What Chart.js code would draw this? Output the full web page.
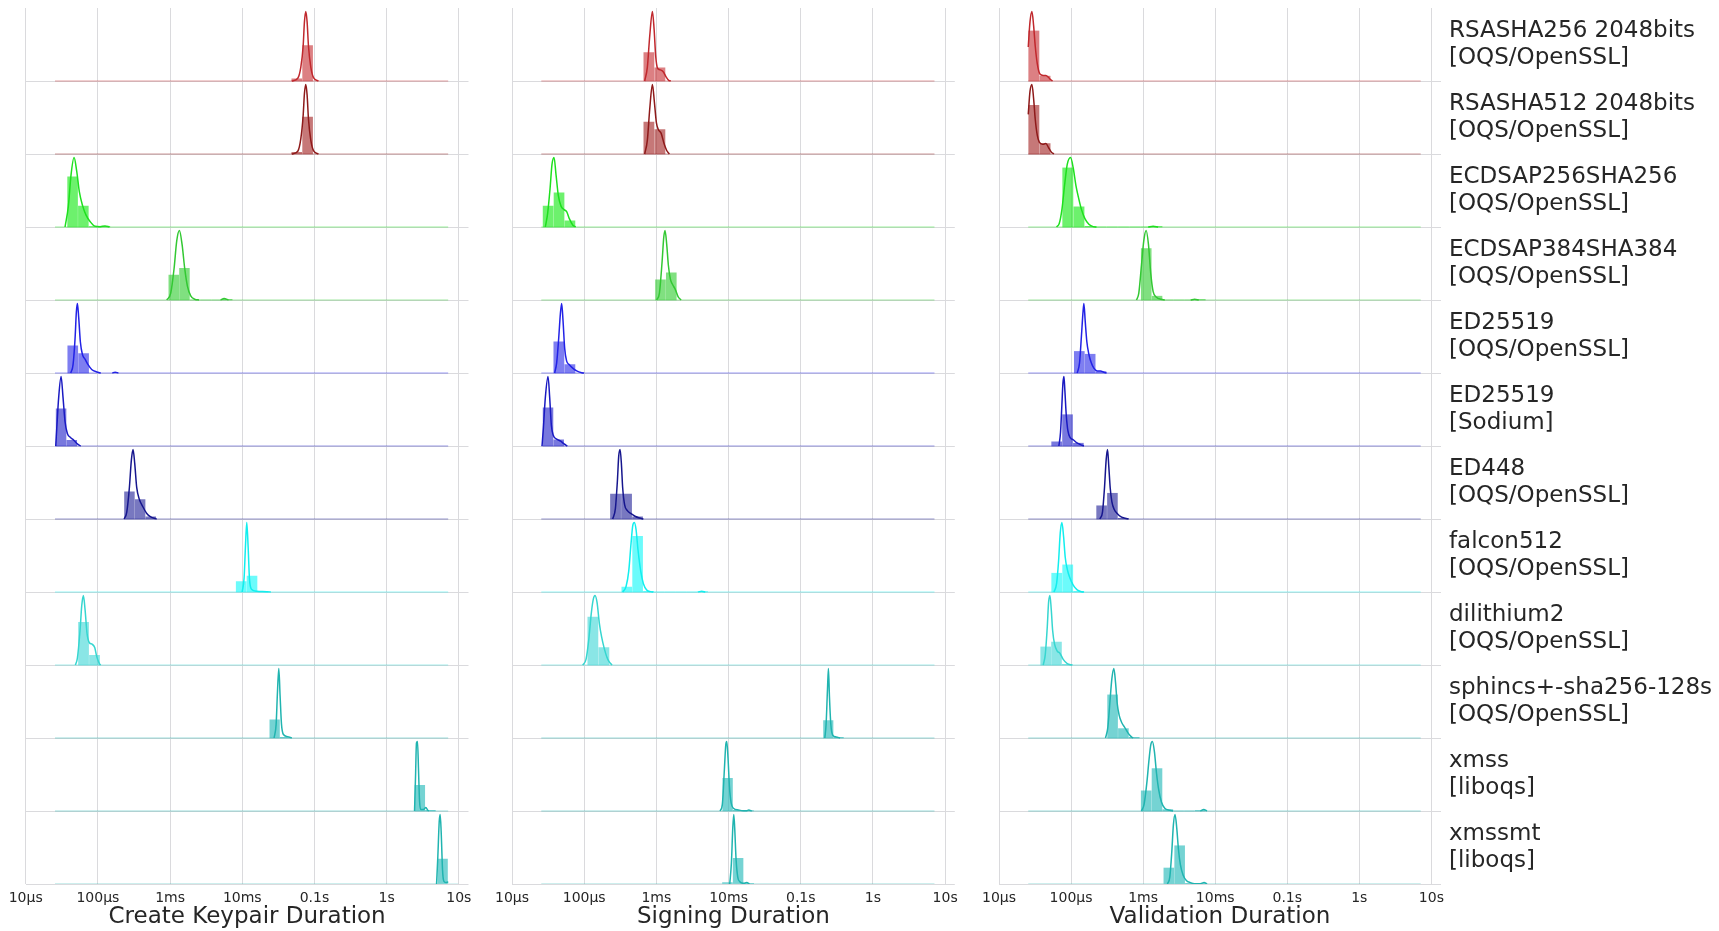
<!DOCTYPE html>
<html>
<head>
<meta charset="utf-8">
<script src="https://cdn.jsdelivr.net/npm/chart.js@4.4.1/dist/chart.umd.min.js"></script>
<style>
  html, body { margin: 0; padding: 0; background: #ffffff; }
  #fig { position: relative; width: 1719px; height: 931px; overflow: hidden; background: #ffffff; }
  #fig canvas { position: absolute; top: 0; }
</style>
</head>
<body>
<div id="fig">
  <canvas id="keypair" width="492" height="931" style="left:0px"></canvas>
  <canvas id="signing" width="500" height="931" style="left:470px"></canvas>
  <canvas id="validation" width="759" height="931" style="left:960px"></canvas>
</div>
<script>
// ---- Benchmark data (durations as log10 of seconds) ----
const columnTitles = ['Create Keypair Duration', 'Signing Duration', 'Validation Duration'];

const algorithmNames = [
  ['RSASHA256 2048bits', '[OQS/OpenSSL]'],
  ['RSASHA512 2048bits', '[OQS/OpenSSL]'],
  ['ECDSAP256SHA256', '[OQS/OpenSSL]'],
  ['ECDSAP384SHA384', '[OQS/OpenSSL]'],
  ['ED25519', '[OQS/OpenSSL]'],
  ['ED25519', '[Sodium]'],
  ['ED448', '[OQS/OpenSSL]'],
  ['falcon512', '[OQS/OpenSSL]'],
  ['dilithium2', '[OQS/OpenSSL]'],
  ['sphincs+-sha256-128s', '[OQS/OpenSSL]'],
  ['xmss', '[liboqs]'],
  ['xmssmt', '[liboqs]']
];

const tickValues = [1e-5, 1e-4, 1e-3, 1e-2, 1e-1, 1, 10];
const tickLabels = ['10µs', '100µs', '1ms', '10ms', '0.1s', '1s', '10s'];

// overall span of all measurements (log10 s)
const measuredRange = [-4.594, 0.852];

const lineColors = ['#c0282d', '#8e1a1a', '#1ee01e', '#33c833', '#2222e6', '#1a1ac2', '#16168e',
                    '#12eeee', '#36d6d0', '#20b4b0', '#20b4b0', '#20b4b0'];
const barColors = ['rgba(196,44,48,0.6)', 'rgba(160,30,30,0.6)', 'rgba(20,232,20,0.62)', 'rgba(50,205,50,0.62)',
                   'rgba(40,40,232,0.6)', 'rgba(30,30,200,0.6)', 'rgba(30,30,150,0.6)',
                   'rgba(10,248,248,0.6)', 'rgba(60,214,214,0.6)', 'rgba(32,184,184,0.62)',
                   'rgba(32,184,184,0.62)', 'rgba(32,184,184,0.62)'];

// histograms: [first bin edge, bin width, bin heights relative to the KDE peak]
const keypairHist = [
  [-1.320, 0.150, [0.03, 0.51]],
  [-1.320, 0.150, [0.024, 0.53]],
  [-4.425, 0.149, [0.72, 0.30, 0.005, 0.01]],
  [-3.023, 0.148, [0.36, 0.455, 0, 0, 0, 0.01]],
  [-4.423, 0.150, [0.39, 0.28]],
  [-4.584, 0.148, [0.535, 0.08]],
  [-3.637, 0.148, [0.39, 0.28, 0.03]],
  [-2.090, 0.150, [0.15, 0.23, 0.01]],
  [-4.275, 0.152, [0.615, 0.14]],
  [-1.624, 0.145, [0.26, 0.01]],
  [0.386, 0.147, [0.37, 0.01]],
  [0.704, 0.144, [0.36, 0]]
];
const signingHist = [
  [-3.180, 0.1525, [0.41, 0.19]],
  [-3.180, 0.1525, [0.46, 0.35]],
  [-4.575, 0.151, [0.30, 0.49, 0.09]],
  [-3.0185, 0.150, [0.29, 0.39]],
  [-4.427, 0.1525, [0.45, 0.12]],
  [-4.575, 0.148, [0.55, 0.09]],
  [-3.642, 0.1525, [0.36, 0.36, 0.03]],
  [-3.485, 0.150, [0.07, 0.80, 0.01, 0, 0, 0, 0, 0.006]],
  [-3.956, 0.1525, [0.69, 0.25]],
  [-0.6905, 0.143, [0.25, 0.01]],
  [-2.0855, 0.145, [0.47, 0.01, 0.005]],
  [-2.090, 0.148, [0.02, 0.37, 0.005]]
];
const validationHist = [
  [-4.594, 0.155, [0.72, 0.07]],
  [-4.594, 0.155, [0.70, 0.15]],
  [-4.1224, 0.1546, [0.85, 0.29, 0.01, 0, 0, 0, 0, 0, 0.008]],
  [-3.032, 0.150, [0.74, 0.055, 0, 0, 0, 0.008]],
  [-3.961, 0.1507, [0.31, 0.27, 0.02]],
  [-4.275, 0.1507, [0.06, 0.45, 0.04]],
  [-3.651, 0.150, [0.19, 0.37, 0.01]],
  [-4.275, 0.1525, [0.27, 0.39, 0.01]],
  [-4.4273, 0.150, [0.26, 0.33, 0.01]],
  [-3.4988, 0.150, [0.62, 0.135, 0.01]],
  [-3.0323, 0.150, [0.29, 0.61, 0.02, 0, 0, 0.008]],
  [-2.7182, 0.150, [0.23, 0.55, 0.01, 0.008]]
];

// kernel density estimates: [log10 s, density relative to peak]
const keypairKde = [
  [[-1.314,0],[-1.231,0.04],[-1.189,0.2],[-1.157,0.5],[-1.139,0.85],[-1.120,1],[-1.102,0.85],[-1.083,0.5],[-1.051,0.2],[-1.009,0.04],[-0.945,0]],
  [[-1.314,0],[-1.231,0.04],[-1.189,0.22],[-1.157,0.55],[-1.139,0.87],[-1.120,1],[-1.102,0.85],[-1.083,0.5],[-1.051,0.2],[-1.009,0.04],[-0.945,0]],
  [[-4.455,0],[-4.409,0.3],[-4.372,0.75],[-4.330,1],[-4.293,0.8],[-4.256,0.5],[-4.210,0.3],[-4.164,0.17],[-4.109,0.08],[-4.039,0.01],[-3.970,0.005],[-3.901,0.015],[-3.841,0]],
  [[-3.046,0],[-2.991,0.1],[-2.945,0.45],[-2.908,0.85],[-2.871,1],[-2.834,0.8],[-2.797,0.45],[-2.760,0.2],[-2.714,0.06],[-2.654,0.01],[-2.600,0],[-2.300,0],[-2.252,0.02],[-2.192,0]],
  [[-4.376,0],[-4.344,0.12],[-4.316,0.5],[-4.298,0.88],[-4.284,1],[-4.266,0.8],[-4.243,0.45],[-4.215,0.27],[-4.178,0.2],[-4.136,0.12],[-4.086,0.05],[-4.016,0.015],[-3.960,0],[-3.800,0],[-3.762,0.012],[-3.716,0]],
  [[-4.584,0],[-4.570,0.25],[-4.543,0.7],[-4.510,1],[-4.483,0.7],[-4.455,0.35],[-4.423,0.18],[-4.376,0.12],[-4.330,0.08],[-4.284,0.03],[-4.238,0]],
  [[-3.637,0],[-3.600,0.1],[-3.564,0.45],[-3.536,0.85],[-3.513,1],[-3.490,0.8],[-3.462,0.45],[-3.425,0.28],[-3.379,0.18],[-3.323,0.08],[-3.268,0.03],[-3.203,0.005],[-3.185,0]],
  [[-2.002,0],[-1.975,0.2],[-1.956,0.65],[-1.938,1],[-1.919,0.65],[-1.901,0.2],[-1.873,0.04],[-1.799,0.01],[-1.661,0.005],[-1.605,0]],
  [[-4.312,0],[-4.284,0.1],[-4.247,0.5],[-4.224,0.85],[-4.201,1],[-4.178,0.8],[-4.150,0.45],[-4.118,0.32],[-4.081,0.3],[-4.044,0.25],[-4.016,0.12],[-3.979,0.02],[-3.961,0]],
  [[-1.559,0],[-1.531,0.2],[-1.513,0.65],[-1.494,1],[-1.476,0.6],[-1.457,0.2],[-1.430,0.05],[-1.374,0.02],[-1.314,0]],
  [[0.386,0],[0.400,0.5],[0.413,0.98],[0.427,1],[0.441,0.6],[0.455,0.15],[0.473,0.02],[0.510,0.02],[0.543,0.05],[0.570,0.01],[0.584,0]],
  [[0.691,0],[0.709,0.4],[0.728,0.9],[0.741,1],[0.755,0.75],[0.774,0.2],[0.792,0.04],[0.820,0.02],[0.843,0.03],[0.852,0.02]]
];
const signingKde = [
  [[-3.162,0],[-3.125,0.2],[-3.092,0.65],[-3.055,1],[-3.032,0.75],[-3.009,0.35],[-2.982,0.18],[-2.945,0.16],[-2.903,0.13],[-2.866,0.06],[-2.829,0.01],[-2.801,0]],
  [[-3.162,0],[-3.125,0.2],[-3.092,0.65],[-3.055,1],[-3.028,0.75],[-3.000,0.45],[-2.972,0.35],[-2.935,0.3],[-2.894,0.15],[-2.857,0.05],[-2.820,0]],
  [[-4.538,0],[-4.506,0.2],[-4.473,0.55],[-4.446,0.9],[-4.418,1],[-4.390,0.75],[-4.358,0.45],[-4.321,0.3],[-4.279,0.25],[-4.243,0.22],[-4.206,0.12],[-4.159,0.03],[-4.118,0]],
  [[-2.995,0],[-2.958,0.1],[-2.921,0.55],[-2.898,0.9],[-2.880,1],[-2.857,0.8],[-2.834,0.5],[-2.806,0.3],[-2.774,0.22],[-2.737,0.15],[-2.700,0.05],[-2.658,0]],
  [[-4.409,0],[-4.381,0.15],[-4.353,0.5],[-4.330,0.85],[-4.312,1],[-4.293,0.75],[-4.270,0.35],[-4.243,0.17],[-4.206,0.12],[-4.159,0.07],[-4.104,0.03],[-4.035,0.005],[-4.002,0]],
  [[-4.584,0],[-4.566,0.25],[-4.538,0.7],[-4.501,1],[-4.478,0.7],[-4.455,0.3],[-4.427,0.15],[-4.381,0.1],[-4.326,0.07],[-4.279,0.03],[-4.233,0]],
  [[-3.605,0],[-3.568,0.15],[-3.540,0.55],[-3.522,0.9],[-3.503,1],[-3.485,0.8],[-3.467,0.45],[-3.439,0.2],[-3.402,0.12],[-3.356,0.08],[-3.296,0.04],[-3.236,0.015],[-3.180,0]],
  [[-3.467,0],[-3.420,0.08],[-3.383,0.3],[-3.351,0.7],[-3.328,0.95],[-3.305,1],[-3.282,0.9],[-3.254,0.6],[-3.217,0.3],[-3.180,0.12],[-3.134,0.03],[-3.079,0.005],[-3.042,0],[-2.420,0],[-2.372,0.012],[-2.323,0]],
  [[-4.021,0],[-3.975,0.08],[-3.938,0.35],[-3.901,0.75],[-3.873,0.95],[-3.850,1],[-3.822,0.9],[-3.790,0.6],[-3.758,0.4],[-3.725,0.25],[-3.688,0.12],[-3.651,0.04],[-3.614,0]],
  [[-0.667,0],[-0.649,0.2],[-0.630,0.7],[-0.617,1],[-0.603,0.6],[-0.584,0.2],[-0.557,0.04],[-0.510,0.015],[-0.455,0]],
  [[-2.118,0],[-2.086,0.1],[-2.058,0.6],[-2.039,0.95],[-2.025,1],[-2.007,0.75],[-1.988,0.35],[-1.965,0.12],[-1.933,0.04],[-1.864,0.015],[-1.794,0.005],[-1.748,0.005],[-1.721,0.015],[-1.679,0]],
  [[-1.984,0],[-1.961,0.3],[-1.942,0.8],[-1.928,1],[-1.915,0.8],[-1.896,0.35],[-1.873,0.1],[-1.841,0.03],[-1.794,0.01],[-1.748,0.02],[-1.711,0]]
];
const validationKde = [
  [[-4.594,0.49],[-4.570,0.85],[-4.543,1],[-4.520,0.8],[-4.497,0.5],[-4.469,0.25],[-4.432,0.1],[-4.386,0.08],[-4.349,0.08],[-4.312,0.05],[-4.284,0.02],[-4.256,0]],
  [[-4.594,0.57],[-4.570,0.9],[-4.543,1],[-4.520,0.8],[-4.497,0.5],[-4.469,0.27],[-4.441,0.17],[-4.395,0.14],[-4.349,0.15],[-4.312,0.09],[-4.275,0.03],[-4.238,0]],
  [[-4.201,0],[-4.164,0.05],[-4.127,0.25],[-4.090,0.6],[-4.053,0.9],[-4.007,1],[-3.970,0.85],[-3.933,0.6],[-3.896,0.42],[-3.855,0.25],[-3.808,0.12],[-3.753,0.04],[-3.693,0.005],[-3.647,0],[-2.930,0],[-2.861,0.012],[-2.792,0]],
  [[-3.092,0],[-3.060,0.1],[-3.023,0.5],[-2.991,0.85],[-2.958,1],[-2.926,0.8],[-2.894,0.38],[-2.861,0.12],[-2.815,0.04],[-2.751,0.01],[-2.700,0],[-2.340,0],[-2.284,0.012],[-2.228,0]],
  [[-3.915,0],[-3.882,0.15],[-3.855,0.55],[-3.836,0.85],[-3.822,1],[-3.804,0.75],[-3.781,0.45],[-3.753,0.27],[-3.721,0.15],[-3.684,0.07],[-3.637,0.03],[-3.591,0.03],[-3.545,0.01],[-3.508,0]],
  [[-4.169,0],[-4.146,0.2],[-4.127,0.6],[-4.113,0.9],[-4.099,1],[-4.086,0.8],[-4.067,0.45],[-4.044,0.22],[-4.012,0.12],[-3.970,0.09],[-3.924,0.05],[-3.868,0.02],[-3.822,0]],
  [[-3.600,0],[-3.564,0.1],[-3.536,0.45],[-3.513,0.85],[-3.494,1],[-3.476,0.75],[-3.457,0.45],[-3.434,0.25],[-3.402,0.14],[-3.360,0.08],[-3.305,0.03],[-3.249,0.01],[-3.203,0]],
  [[-4.238,0],[-4.201,0.12],[-4.173,0.45],[-4.150,0.85],[-4.127,1],[-4.104,0.8],[-4.081,0.5],[-4.053,0.33],[-4.016,0.2],[-3.970,0.1],[-3.915,0.03],[-3.855,0.005],[-3.822,0]],
  [[-4.386,0],[-4.358,0.15],[-4.330,0.55],[-4.312,0.9],[-4.293,1],[-4.275,0.8],[-4.256,0.5],[-4.229,0.3],[-4.192,0.2],[-4.155,0.17],[-4.109,0.08],[-4.053,0.02],[-3.984,0]],
  [[-3.522,0],[-3.490,0.15],[-3.462,0.5],[-3.434,0.85],[-3.406,1],[-3.383,0.8],[-3.360,0.5],[-3.333,0.33],[-3.296,0.22],[-3.254,0.15],[-3.208,0.07],[-3.166,0.02],[-3.139,0]],
  [[-3.023,0],[-2.986,0.1],[-2.949,0.4],[-2.917,0.75],[-2.894,0.95],[-2.871,1],[-2.843,0.85],[-2.815,0.55],[-2.783,0.3],[-2.746,0.13],[-2.700,0.04],[-2.630,0.01],[-2.584,0],[-2.205,0],[-2.159,0.02],[-2.113,0]],
  [[-2.663,0],[-2.630,0.1],[-2.603,0.45],[-2.580,0.85],[-2.557,1],[-2.533,0.8],[-2.510,0.5],[-2.483,0.28],[-2.446,0.13],[-2.400,0.05],[-2.344,0.02],[-2.284,0.005],[-2.206,0.005],[-2.155,0.02],[-2.112,0]]
];

// ---- Rendering ----
const FONT = 'DejaVu Sans';
const TEXT = '#262626';
const GRID = '#dadadd';
const ROW_SPAN = 1.05;           // density peak plus 5% headroom per ridge
const X_MAX = 13.6;
const nRows = algorithmNames.length;
const rowBase = i => (nRows - 1 - i) * ROW_SPAN;
const sec = lg => Math.pow(10, lg);

function withAlpha(hex, a) {
  const n = parseInt(hex.slice(1), 16);
  return `rgba(${(n >> 16) & 255},${(n >> 8) & 255},${n & 255},${a})`;
}

// KDE polyline; stretches where the density stays at zero are left undrawn
function kdePoints(curve, base) {
  const pts = [];
  curve.forEach(([lg, d], k) => {
    if (k > 0) {
      const [plg, pd] = curve[k - 1];
      if (pd === 0 && d === 0 && lg - plg > 0.1) {
        pts.push({ x: sec((lg + plg) / 2), y: null });
      }
    }
    pts.push({ x: sec(lg), y: base + d });
  });
  return pts;
}

function ridgeDatasets(hist, kde) {
  const sets = [];
  hist.forEach(([start, width, heights], i) => {
    const b = rowBase(i);
    sets.push({
      type: 'bar',
      data: heights.map((h, k) => ({ x: sec(start + (k + 0.5) * width), y: [b, b + h] })),
      backgroundColor: barColors[i],
      borderWidth: 0,
      barThickness: 'flex',
      categoryPercentage: 1,
      barPercentage: 0.92,
      stack: 'hist',
      order: 2
    });
    sets.push({
      type: 'line',
      data: measuredRange.map(v => ({ x: sec(v), y: b })),
      borderColor: withAlpha(lineColors[i], 0.45),
      borderWidth: 1,
      pointRadius: 0,
      order: 1
    });
    sets.push({
      type: 'line',
      data: kdePoints(kde[i], b),
      borderColor: lineColors[i],
      borderWidth: 1.5,
      pointRadius: 0,
      spanGaps: false,
      cubicInterpolationMode: 'monotone',
      order: 0
    });
  });
  return sets;
}

function ridgeChart(canvasId, col, hist, kde, padLeft, padRight, withLabels) {
  const scales = {
    x: {
      type: 'logarithmic',
      min: 1e-5,
      max: X_MAX,
      offset: false,
      grid: { color: GRID, lineWidth: 1, drawTicks: false, offset: false },
      border: { display: false },
      ticks: {
        font: { family: FONT, size: 14 },
        color: TEXT,
        padding: 6,
        maxRotation: 0,
        autoSkip: false,
        callback: (v, idx) => tickLabels[idx]
      },
      title: {
        display: true,
        text: columnTitles[col],
        font: { family: FONT, size: 23 },
        color: TEXT,
        padding: { top: 0, bottom: 0 }
      },
      afterBuildTicks: s => { s.ticks = tickValues.map(v => ({ value: v })); },
      afterFit: s => { s.height = 47; s.paddingLeft = 0; s.paddingRight = 0; }
    },
    y: {
      type: 'linear',
      min: 0,
      max: nRows * ROW_SPAN,
      stacked: false,
      grid: { color: GRID, lineWidth: 1, drawTicks: false },
      border: { display: false },
      ticks: { display: false, autoSkip: false },
      afterBuildTicks: s => { s.ticks = algorithmNames.map((_, i) => ({ value: rowBase(i) })); },
      afterFit: s => { s.width = 0; s.paddingTop = 0; s.paddingBottom = 0; }
    }
  };
  if (withLabels) {
    scales.yLab = {
      type: 'linear',
      position: 'right',
      min: 0,
      max: nRows * ROW_SPAN,
      grid: { display: false, drawTicks: false },
      border: { display: false },
      ticks: {
        font: { family: FONT, size: 23, lineHeight: 1.16 },
        color: TEXT,
        padding: 8,
        autoSkip: false,
        callback: (v, idx) => algorithmNames[idx]
      },
      afterBuildTicks: s => { s.ticks = algorithmNames.map((_, i) => ({ value: rowBase(i) + ROW_SPAN / 2 })); },
      afterFit: s => { s.width = 278; s.paddingTop = 0; s.paddingBottom = 0; }
    };
  }
  return new Chart(document.getElementById(canvasId), {
    type: 'bar',
    data: { datasets: ridgeDatasets(hist, kde) },
    options: {
      responsive: false,
      animation: false,
      devicePixelRatio: 1,
      events: [],
      layout: { padding: { left: padLeft, right: padRight, top: 8, bottom: 0 } },
      plugins: { legend: { display: false }, tooltip: { enabled: false } },
      scales
    }
  });
}

ridgeChart('keypair', 0, keypairHist, keypairKde, 25.7, 23.5, false);
ridgeChart('signing', 1, signingHist, signingKde, 42, 15.2, false);
ridgeChart('validation', 2, validationHist, validationKde, 39, 0, true);
</script>
</body>
</html>
